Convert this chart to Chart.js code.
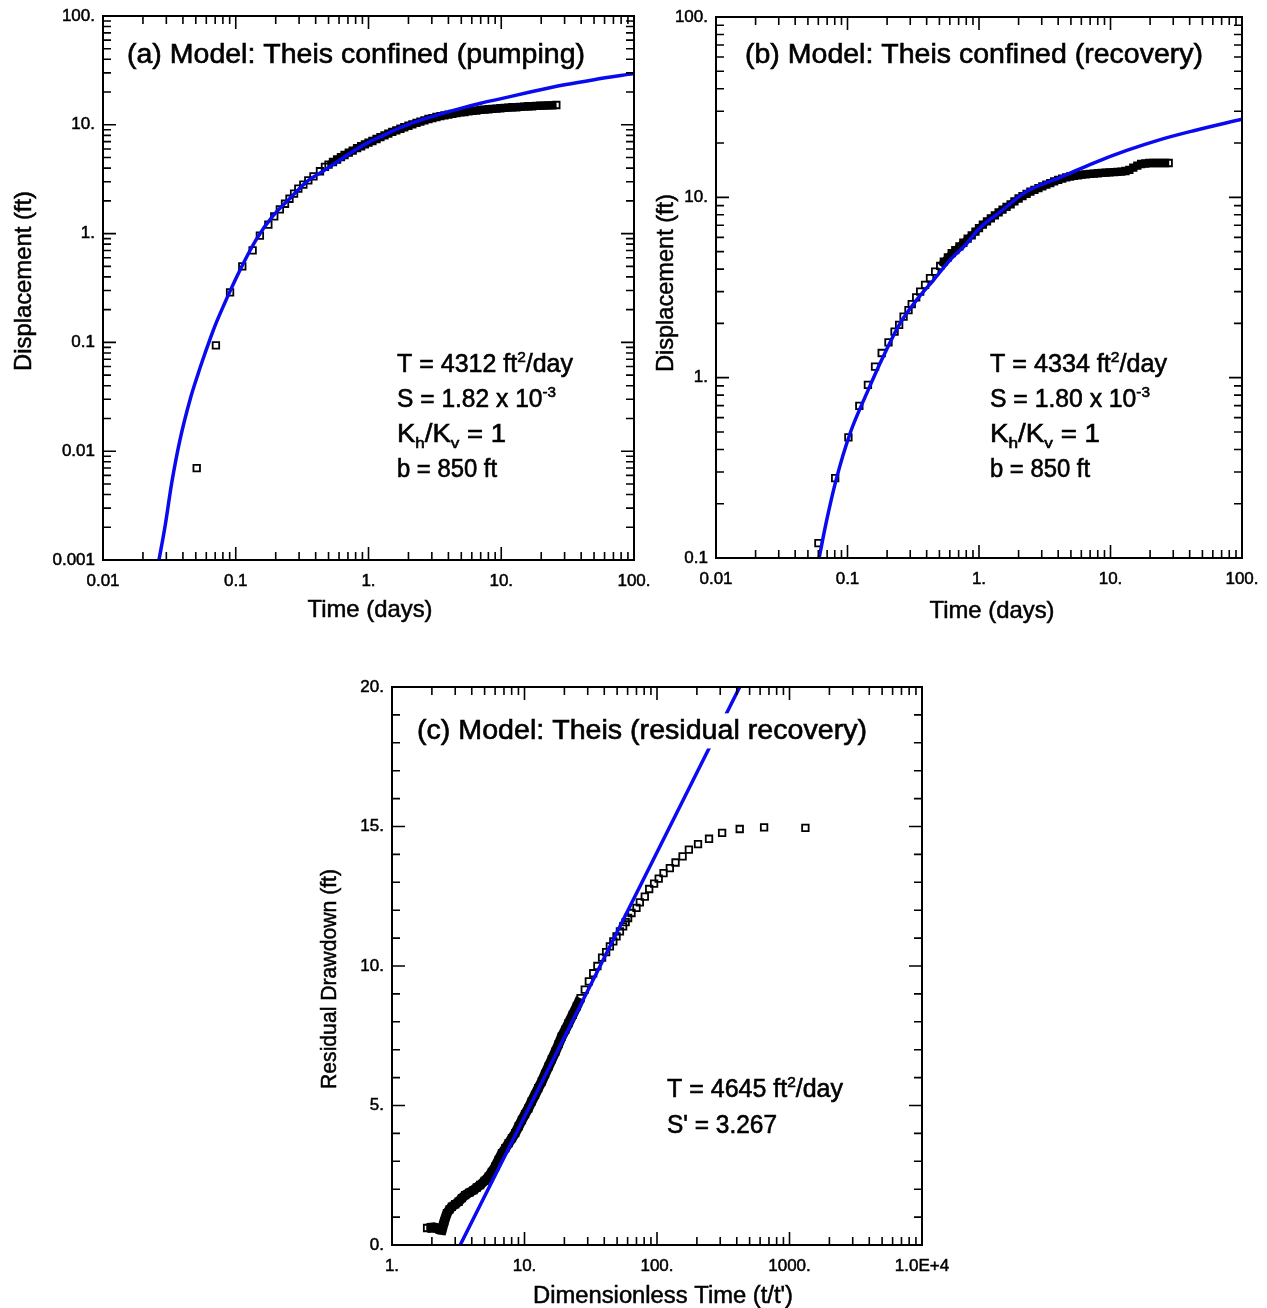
<!DOCTYPE html>
<html>
<head>
<meta charset="utf-8">
<title>Theis analysis - pumping, recovery and residual recovery</title>
<script src="https://cdn.jsdelivr.net/npm/chart.js@4.4.1/dist/chart.umd.min.js"></script>
<style>
  html, body { margin: 0; padding: 0; background: #fff; overflow: hidden; }
  #page { position: relative; width: 1267px; height: 1308px; }
  canvas { position: absolute; }
</style>
</head>
<body>
<div id="page">
  <canvas id="pumping" width="680" height="650" style="left:0;top:0"></canvas>
  <canvas id="recovery" width="627" height="650" style="left:640px;top:0"></canvas>
  <canvas id="residual" width="660" height="660" style="left:300px;top:660px"></canvas>
</div>
<script>
const BLUE = 'rgb(10, 10, 240)';
const FONT = '"Liberation Sans", Arial, Helvetica, sans-serif';

// (a) pumping period: displacement (ft) vs time (days)
const pumpTime = [0.0508, 0.0709, 0.0906, 0.112, 0.134, 0.152, 0.176, 0.195, 0.215, 0.235,
  0.254, 0.275, 0.296, 0.323, 0.352, 0.385, 0.431, 0.470,
  0.50, 0.54, 0.58, 0.62, 0.66, 0.71, 0.76, 0.82, 0.88, 0.94,
  1.0, 1.07, 1.15, 1.23, 1.32, 1.41, 1.51, 1.62, 1.74, 1.86,
  2.0, 2.14, 2.3, 2.46, 2.64, 2.83, 3.03, 3.25, 3.48, 3.73,
  4.0, 4.29, 4.6, 4.93, 5.28, 5.66, 6.07, 6.5, 6.97, 7.47,
  8.0, 8.58, 9.2, 9.85, 10.6, 11.3, 12.1, 13.0, 13.9, 14.9,
  16.0, 17.1, 18.4, 19.7, 21.1, 22.6, 24.2, 26.0];
const pumpDisp = [0.0070, 0.094, 0.288, 0.50, 0.70, 0.96, 1.21, 1.44, 1.67, 1.88,
  2.09, 2.33, 2.59, 2.82, 3.09, 3.36, 3.74, 4.10,
  4.30, 4.55, 4.80, 5.05, 5.28, 5.55, 5.80, 6.10, 6.35, 6.60,
  6.85, 7.10, 7.40, 7.70, 8.00, 8.30, 8.60, 8.90, 9.20, 9.50,
  9.80, 10.1, 10.4, 10.7, 11.0, 11.3, 11.5, 11.8, 12.0, 12.2,
  12.4, 12.6, 12.8, 13.0, 13.1, 13.3, 13.4, 13.5, 13.7, 13.8,
  13.9, 14.0, 14.1, 14.2, 14.3, 14.4, 14.5, 14.5, 14.6, 14.7,
  14.8, 14.8, 14.9, 15.0, 15.0, 15.1, 15.1, 15.2];
const pumpFitTime = [0.0264, 0.0293, 0.0329, 0.0380, 0.0452, 0.0522, 0.0587, 0.0678, 0.0784, 0.1077,
  0.144, 0.192, 0.26, 0.342, 0.45, 0.609, 0.8, 1.0, 1.3, 1.63,
  2.0, 3.0, 5.2, 7.0, 10, 16.5, 30, 50, 100];
const pumpFitDisp = [0.001, 0.00202, 0.00507, 0.0127, 0.0296, 0.052, 0.0794, 0.130, 0.199, 0.463,
  0.90, 1.47, 2.15, 2.99, 3.72, 4.75, 5.9, 6.9, 8.0, 9.1,
  10.1, 11.9, 14.4, 15.8, 17.4, 20.0, 23.3, 26.0, 29.6];

// (b) recovery period
const recTime = [0.0601, 0.0806, 0.1016, 0.123, 0.143, 0.162, 0.182, 0.205, 0.228, 0.247,
  0.267, 0.291, 0.308, 0.333, 0.357, 0.389, 0.424, 0.464, 0.507,
  0.54, 0.58, 0.62, 0.66, 0.71, 0.76, 0.82, 0.88, 0.94,
  1.0, 1.07, 1.15, 1.23, 1.32, 1.41, 1.51, 1.62, 1.74, 1.86,
  2.0, 2.14, 2.3, 2.46, 2.64, 2.83, 3.03, 3.25, 3.48, 3.73,
  4.0, 4.29, 4.6, 4.93, 5.28, 5.66, 6.07, 6.5, 6.97, 7.47,
  8.0, 8.58, 9.2, 9.85, 10.6, 11.3, 12.1, 13.0, 13.9, 14.9,
  16.0, 17.1, 18.4, 19.7, 21.1, 22.6, 24.2, 26.0, 27.7];
const recDisp = [0.121, 0.277, 0.467, 0.697, 0.912, 1.15, 1.37, 1.57, 1.80, 1.96,
  2.18, 2.37, 2.56, 2.79, 3.00, 3.27, 3.56, 3.87, 4.17,
  4.40, 4.65, 4.90, 5.10, 5.35, 5.60, 5.90, 6.15, 6.45,
  6.75, 7.05, 7.35, 7.65, 7.95, 8.25, 8.55, 8.85, 9.15, 9.50,
  9.85, 10.15, 10.45, 10.75, 11.0, 11.25, 11.5, 11.75, 12.0, 12.25,
  12.5, 12.7, 12.9, 13.05, 13.15, 13.25, 13.35, 13.4, 13.5, 13.55,
  13.6, 13.65, 13.7, 13.75, 13.8, 13.85, 13.9, 14.0, 14.2, 14.6,
  15.0, 15.3, 15.4, 15.5, 15.5, 15.5, 15.5, 15.5, 15.5];
const recFitTime = [0.0608, 0.0696, 0.0819, 0.1047, 0.140, 0.187, 0.251, 0.336, 0.451, 0.604,
  0.809, 1.0, 1.45, 2.31, 4.15, 7.43, 13.3, 23.9, 42.9, 100];
const recFitDisp = [0.1, 0.163, 0.271, 0.492, 0.818, 1.31, 2.0, 2.70, 3.48, 4.50,
  5.56, 6.7, 8.3, 10.8, 12.9, 15.5, 18.2, 20.9, 23.4, 27.1];

// (c) residual drawdown (ft) vs t/t'
const resRatio = [1.84, 1.95, 2.07, 2.18, 2.28, 2.38, 2.48, 2.60, 2.72, 2.83,
  3.0, 3.18, 3.37, 3.57, 3.84, 4.13, 4.37, 4.63, 5.0, 5.36,
  5.67, 6.01, 6.38, 6.76, 7.17, 7.59, 8.04, 8.51, 9.02, 9.56,
  10.1, 10.7, 11.3, 12.0, 12.7, 13.5, 14.3, 15.2, 16.1, 17.1,
  18.1, 19.1, 20.3, 21.5, 23.1, 24.8, 26.5, 28.5, 30.6, 33.0,
  35.5, 38.5, 41.3, 44.1, 46.8, 49.5, 52.5, 55.5, 58.0, 60.5,
  64.2, 70.0, 74.2, 80.9, 87.3, 95.1, 103, 112, 125, 138,
  156, 174, 204, 247, 310, 421, 643, 1318];
const resDraw = [0.61, 0.62, 0.63, 0.60, 0.55, 0.54, 0.85, 1.14, 1.28, 1.37,
  1.46, 1.55, 1.68, 1.79, 1.88, 1.97, 2.06, 2.15, 2.30, 2.45,
  2.62, 2.81, 3.05, 3.29, 3.47, 3.65, 3.83, 4.01, 4.25, 4.48,
  4.69, 4.90, 5.14, 5.38, 5.62, 5.86, 6.13, 6.40, 6.66, 6.93,
  7.20, 7.47, 7.71, 7.95, 8.25, 8.55, 8.85, 9.15, 9.45, 9.74,
  10.0, 10.3, 10.5, 10.70, 10.88, 11.06, 11.24, 11.42, 11.57, 11.72,
  11.90, 12.08, 12.28, 12.49, 12.76, 12.95, 13.13, 13.33, 13.51, 13.71,
  13.93, 14.17, 14.37, 14.56, 14.77, 14.91, 14.97, 14.95];
const resFitRatio = [3.27, 37.2, 421];
const resFitDraw = [0, 10, 20];

// axis ticks and their printed labels
const timeTicks = [0.01, 0.1, 1, 10, 100];
const timeTickText = ['0.01', '0.1', '1.', '10.', '100.'];
const pumpDispTicks = [0.001, 0.01, 0.1, 1, 10, 100];
const pumpDispTickText = ['0.001', '0.01', '0.1', '1.', '10.', '100.'];
const recDispTicks = [0.1, 1, 10, 100];
const recDispTickText = ['0.1', '1.', '10.', '100.'];
const ratioTicks = [1, 10, 100, 1000, 10000];
const ratioTickText = ['1.', '10.', '100.', '1000.', '1.0E+4'];
const resTicks = [0, 5, 10, 15, 20];
const resTickText = ['0.', '5.', '10.', '15.', '20.'];

function points(xs, ys) {
  return xs.map((x, i) => ({x: x, y: ys[i]}));
}

// 2..9 in every decade between lo and hi
function logMinor(lo, hi) {
  const out = [];
  for (let e = Math.round(Math.log10(lo)); e < Math.round(Math.log10(hi)); e++) {
    for (let k = 2; k <= 9; k++) out.push(k * Math.pow(10, e));
  }
  return out;
}

// text with ^superscript and _subscript pieces, squeezed to width w
function drawNote(ctx, n) {
  const pieces = n.parts.map(p => {
    const mode = p[0] === '^' ? 'sup' : (p[0] === '_' ? 'sub' : 'base');
    return {
      text: mode === 'base' ? p : p.slice(1),
      size: mode === 'base' ? n.size : n.size * 0.62,
      dy: mode === 'sup' ? -n.size * 0.42 : (mode === 'sub' ? n.size * 0.24 : 0)
    };
  });
  let natural = 0;
  pieces.forEach(pc => {
    ctx.font = pc.size + 'px ' + FONT;
    pc.w = ctx.measureText(pc.text).width;
    natural += pc.w;
  });
  if (n.box) {
    ctx.fillStyle = '#fff';
    ctx.fillRect(n.x - 3, n.y - n.size * 0.95, n.w + 6, n.size * 1.3);
  }
  ctx.save();
  ctx.translate(n.x, n.y);
  ctx.scale(n.w / natural, 1);
  ctx.fillStyle = '#000';
  ctx.strokeStyle = '#000';
  ctx.lineWidth = 0.6;
  ctx.textBaseline = 'alphabetic';
  ctx.textAlign = 'left';
  let cx = 0;
  pieces.forEach(pc => {
    ctx.font = pc.size + 'px ' + FONT;
    ctx.fillText(pc.text, cx, pc.dy);
    ctx.strokeText(pc.text, cx, pc.dy);
    cx += pc.w;
  });
  ctx.restore();
}

// axis title centred on (x, y), optionally turned to read bottom-up
function drawAxisTitle(ctx, t) {
  ctx.save();
  ctx.translate(t.x, t.y);
  if (t.rot) ctx.rotate(-Math.PI / 2);
  ctx.font = t.size + 'px ' + FONT;
  ctx.scale(t.w / ctx.measureText(t.text).width, 1);
  ctx.textAlign = 'center';
  ctx.textBaseline = 'middle';
  ctx.fillStyle = '#000';
  ctx.strokeStyle = '#000';
  ctx.lineWidth = 0.5;
  ctx.fillText(t.text, 0, 0);
  ctx.strokeText(t.text, 0, 0);
  ctx.restore();
}

// inward tick marks on all four sides, the frame and the text
function decor(cfg) {
  return {
    id: 'decor',
    afterDatasetsDraw(chart) {
      const {ctx, chartArea: a, scales: {x, y}} = chart;
      ctx.save();
      ctx.strokeStyle = '#000';
      ctx.lineWidth = 1.6;
      ctx.beginPath();
      [[cfg.xMajor, 13], [cfg.xMinor, 8]].forEach(([vals, len]) => {
        vals.forEach(v => {
          const px = x.getPixelForValue(v);
          if (px <= a.left + 1 || px >= a.right - 1) return;
          ctx.moveTo(px, a.bottom); ctx.lineTo(px, a.bottom - len);
          ctx.moveTo(px, a.top); ctx.lineTo(px, a.top + len);
        });
      });
      [[cfg.yMajor, 13], [cfg.yMinor, 8]].forEach(([vals, len]) => {
        vals.forEach(v => {
          const py = y.getPixelForValue(v);
          if (py <= a.top + 1 || py >= a.bottom - 1) return;
          ctx.moveTo(a.left, py); ctx.lineTo(a.left + len, py);
          ctx.moveTo(a.right, py); ctx.lineTo(a.right - len, py);
        });
      });
      ctx.stroke();
      ctx.lineWidth = 2;
      ctx.strokeRect(a.left, a.top, a.right - a.left, a.bottom - a.top);
      cfg.notes.forEach(n => drawNote(ctx, n));
      cfg.titles.forEach(t => drawAxisTitle(ctx, t));
      ctx.restore();
    }
  };
}

function axis(p) {
  return {
    type: p.type,
    position: p.position,
    min: p.min,
    max: p.max,
    afterBuildTicks: s => { s.ticks = p.ticks.map(v => ({value: v})); },
    afterFit: p.fit,
    ticks: {
      autoSkip: false,
      maxRotation: 0,
      padding: p.tickPad,
      color: '#000',
      textStrokeColor: '#000',
      textStrokeWidth: 0.5,
      font: {family: FONT, size: 17},
      callback: (v, i) => p.text[i]
    },
    grid: {display: false, drawTicks: false},
    border: {display: false},
    title: {display: false}
  };
}

function panel(cfg) {
  const canvas = document.getElementById(cfg.id);
  const W = canvas.width, H = canvas.height, a = cfg.area;
  return new Chart(canvas, {
    type: 'scatter',
    data: {
      datasets: [{
        // model curve
        data: points(cfg.fitX, cfg.fitY),
        showLine: true,
        borderColor: BLUE,
        borderWidth: 3.5,
        pointRadius: 0,
        cubicInterpolationMode: 'monotone',
        order: 0
      }, {
        // measured values
        data: points(cfg.obsX, cfg.obsY),
        pointStyle: 'rect',
        pointRadius: 4.6,
        pointBorderWidth: 1.8,
        borderColor: '#000',
        backgroundColor: 'rgba(0,0,0,0)',
        order: 1
      }, {
        // where readings pile up into a solid trace
        data: points(cfg.obsX, cfg.obsY).slice(cfg.dense[0], cfg.dense[1]),
        showLine: true,
        borderColor: '#000',
        borderWidth: cfg.dense[2],
        pointRadius: 0,
        order: 2
      }]
    },
    options: {
      responsive: false,
      animation: false,
      events: [],
      layout: {
        autoPadding: false,
        padding: {left: 0, top: a.top, right: W - a.right, bottom: 0}
      },
      plugins: {legend: {display: false}, tooltip: {enabled: false}},
      scales: {
        x: axis(Object.assign({}, cfg.x, {
          position: 'bottom',
          tickPad: 11,
          fit: s => { s.height = H - a.bottom; s.paddingLeft = 0; s.paddingRight = 0; }
        })),
        y: axis(Object.assign({}, cfg.y, {
          position: 'left',
          tickPad: 8,
          fit: s => { s.width = a.left; s.paddingTop = 0; s.paddingBottom = 0; }
        }))
      }
    },
    plugins: [decor(cfg.decor)]
  });
}

// (a) pumping
panel({
  id: 'pumping',
  area: {left: 103, top: 16, right: 634, bottom: 560},
  obsX: pumpTime, obsY: pumpDisp, fitX: pumpFitTime, fitY: pumpFitDisp,
  dense: [18, pumpTime.length, 7],
  x: {type: 'logarithmic', min: 0.01, max: 100, ticks: timeTicks, text: timeTickText},
  y: {type: 'logarithmic', min: 0.001, max: 100, ticks: pumpDispTicks, text: pumpDispTickText},
  decor: {
    xMajor: timeTicks, xMinor: logMinor(0.01, 100),
    yMajor: pumpDispTicks, yMinor: logMinor(0.001, 100),
    titles: [
      {text: 'Time (days)', x: 370, y: 610, w: 125, size: 24},
      {text: 'Displacement (ft)', x: 24, y: 281, w: 180, size: 24, rot: true}
    ],
    notes: [
      {x: 127, y: 63, w: 458, size: 27, box: true, parts: ['(a) Model: Theis confined (pumping)']},
      {x: 397, y: 372, w: 176, size: 25, parts: ['T = 4312 ft', '^2', '/day']},
      {x: 397, y: 407, w: 159, size: 25, parts: ['S = 1.82 x 10', '^-3']},
      {x: 397, y: 442, w: 109, size: 25, parts: ['K', '_h', '/K', '_v', ' = 1']},
      {x: 397, y: 477, w: 100, size: 25, parts: ['b = 850 ft']}
    ]
  }
});

// (b) recovery
panel({
  id: 'recovery',
  area: {left: 76, top: 17, right: 602, bottom: 558},
  obsX: recTime, obsY: recDisp, fitX: recFitTime, fitY: recFitDisp,
  dense: [18, recTime.length, 7],
  x: {type: 'logarithmic', min: 0.01, max: 100, ticks: timeTicks, text: timeTickText},
  y: {type: 'logarithmic', min: 0.1, max: 100, ticks: recDispTicks, text: recDispTickText},
  decor: {
    xMajor: timeTicks, xMinor: logMinor(0.01, 100),
    yMajor: recDispTicks, yMinor: logMinor(0.1, 100),
    titles: [
      {text: 'Time (days)', x: 352, y: 611, w: 125, size: 24},
      {text: 'Displacement (ft)', x: 26, y: 283, w: 178, size: 24, rot: true}
    ],
    notes: [
      {x: 105, y: 63, w: 458, size: 27, box: true, parts: ['(b) Model: Theis confined (recovery)']},
      {x: 350, y: 372, w: 177, size: 25, parts: ['T = 4334 ft', '^2', '/day']},
      {x: 350, y: 407, w: 160, size: 25, parts: ['S = 1.80 x 10', '^-3']},
      {x: 350, y: 442, w: 110, size: 25, parts: ['K', '_h', '/K', '_v', ' = 1']},
      {x: 350, y: 477, w: 100, size: 25, parts: ['b = 850 ft']}
    ]
  }
});

// (c) residual recovery
const resMinor = [];
for (let v = 1; v < 20; v++) if (v % 5) resMinor.push(v);

panel({
  id: 'residual',
  area: {left: 92, top: 27, right: 622, bottom: 585},
  obsX: resRatio, obsY: resDraw, fitX: resFitRatio, fitY: resFitDraw,
  dense: [0, 47, 10],
  x: {type: 'logarithmic', min: 1, max: 10000, ticks: ratioTicks, text: ratioTickText},
  y: {type: 'linear', min: 0, max: 20, ticks: resTicks, text: resTickText},
  decor: {
    xMajor: ratioTicks, xMinor: logMinor(1, 10000),
    yMajor: resTicks, yMinor: resMinor,
    titles: [
      {text: "Dimensionless Time (t/t')", x: 363, y: 637, w: 260, size: 23},
      {text: 'Residual Drawdown (ft)', x: 30, y: 319, w: 220, size: 22, rot: true}
    ],
    notes: [
      {x: 117, y: 79, w: 450, size: 27, box: true, parts: ['(c) Model: Theis (residual recovery)']},
      {x: 367, y: 437, w: 176, size: 25, parts: ['T = 4645 ft', '^2', '/day']},
      {x: 367, y: 473, w: 110, size: 25, parts: ["S' = 3.267"]}
    ]
  }
});
</script>
</body>
</html>
